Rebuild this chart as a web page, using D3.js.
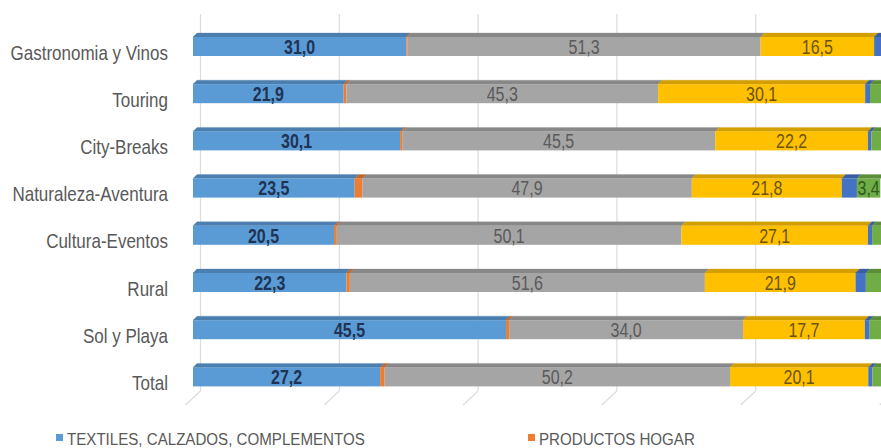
<!DOCTYPE html>
<html>
<head>
<meta charset="utf-8">
<script src="https://cdn.jsdelivr.net/npm/d3@7"></script>
<style>
  html, body { margin: 0; padding: 0; background: #ffffff; }
  svg { display: block; }
</style>
</head>
<body>
<script>
// Categories (one bar each) and the share of each product group, in %
const categories = ["Gastronomia y Vinos", "Touring", "City-Breaks", "Naturaleza-Aventura",
                    "Cultura-Eventos", "Rural", "Sol y Playa", "Total"];
const textiles = [31.0, 21.9, 30.1, 23.5, 20.5, 22.3, 45.5, 27.2];
const hogar    = [0.2, 0.4, 0.3, 1.1, 0.4, 0.5, 0.45, 0.65];
const serie3   = [51.3, 45.3, 45.5, 47.9, 50.1, 51.6, 34.0, 50.2];
const serie4   = [16.5, 30.1, 22.2, 21.8, 27.1, 21.9, 17.7, 20.1];
const serie5   = [1.0, 0.7, 0.5, 2.2, 0.6, 1.5, 0.7, 0.6];
const serie6   = [0.0, 1.6, 1.4, 3.4, 1.3, 2.2, 1.65, 1.25];
const gridTicks = [0, 20, 40, 60, 80, 100];
const legendLabels = ["TEXTILES, CALZADOS, COMPLEMENTOS", "PRODUCTOS HOGAR"];

const keys = ["textiles", "hogar", "serie3", "serie4", "serie5", "serie6"];
const colors = {
  textiles: "#5B9BD5", hogar: "#ED7D31", serie3: "#A5A5A5",
  serie4: "#FFC000", serie5: "#4472C4", serie6: "#70AD47"
};
const labelColors = {
  textiles: "#1f3354", hogar: "#7a3a10", serie3: "#5a5a5a",
  serie4: "#6b5410", serie5: "#1f3354", serie6: "#2f5a1c"
};
const labelWeights = { textiles: "bold", serie3: "normal", serie4: "normal", serie6: "normal", hogar: "normal", serie5: "normal" };

const rows = categories.map((c, i) => ({
  category: c,
  textiles: textiles[i], hogar: hogar[i], serie3: serie3[i],
  serie4: serie4[i], serie5: serie5[i], serie6: serie6[i]
}));

const W = 881, H = 448;
const FONT = "'Liberation Sans', Arial, sans-serif";
const svg = d3.select("body").append("svg").attr("width", W).attr("height", H);

// Front plane of the bars and the back wall of the 3D plot
const x = d3.scaleLinear().domain([0, 100]).range([193, 881]);
const xBack = d3.scaleLinear().domain([0, 100]).range([200.5, 894.5]);
const y = d3.scaleBand().domain(categories).range([22.9, 22.9 + 8 * 47.2])
  .paddingInner(0.5975).paddingOuter(0.29875);
const bw = y.bandwidth();
const depthX = 4, depthY = 4;      // bar top face offset
const wallTop = 14, floorBack = 391, floorFront = 405, floorShift = 15;

// condensed text: draws at (px, py) squeezed horizontally
function condensed(sel, px, py, sx) {
  return sel.attr("transform", `translate(${px},${py}) scale(${sx},1)`);
}

// back-wall gridlines and floor edges
const grid = svg.append("g").attr("stroke", "#dcdcdc").attr("stroke-width", 1.2).attr("fill", "none");
grid.selectAll("line.v").data(gridTicks).join("line").attr("class", "v")
  .attr("x1", d => xBack(d)).attr("x2", d => xBack(d))
  .attr("y1", wallTop).attr("y2", floorBack);
grid.selectAll("line.f").data(gridTicks).join("line").attr("class", "f")
  .attr("x1", d => xBack(d)).attr("x2", d => xBack(d) - floorShift)
  .attr("y1", floorBack).attr("y2", floorFront);

// stacked 3D bars
const series = d3.stack().keys(keys)(rows);
const barG = svg.append("g");
series.forEach(s => {
  const g = barG.append("g");
  const col = colors[s.key];
  // top face
  g.selectAll("path").data(s).join("path")
    .attr("d", d => {
      const x0 = x(d[0]), x1 = x(d[1]), yt = y(d.data.category);
      return `M${x0},${yt}L${x0 + depthX},${yt - depthY}L${x1 + depthX},${yt - depthY}L${x1},${yt}Z`;
    })
    .attr("fill", d3.color(col).darker(0.55))
    .attr("stroke", d3.color(col).darker(0.55)).attr("stroke-width", 0.3);
  // front face
  g.selectAll("rect").data(s).join("rect")
    .attr("x", d => x(d[0]))
    .attr("y", d => y(d.data.category))
    .attr("width", d => Math.max(0, x(d[1]) - x(d[0])))
    .attr("height", bw)
    .attr("fill", col);
});

// value labels on the wider segments
const labelG = svg.append("g").attr("font-family", FONT).attr("font-size", 20.5)
  .attr("text-anchor", "middle");
series.forEach(s => {
  s.forEach(d => {
    const v = d[1] - d[0];
    if (v < 3) return;
    const t = labelG.append("text")
      .attr("dy", "0.36em")
      .attr("fill", labelColors[s.key])
      .attr("font-weight", labelWeights[s.key])
      .text(d3.format(".1f")(v).replace(".", ","));
    condensed(t, (x(d[0]) + x(d[1])) / 2, y(d.data.category) + bw / 2, 0.78);
  });
});

// category labels
const catG = svg.append("g").attr("font-family", FONT).attr("font-size", 21)
  .attr("fill", "#595959").attr("text-anchor", "end");
categories.forEach(c => {
  const t = catG.append("text").attr("dy", "0.36em").text(c);
  condensed(t, 168, y(c) + bw / 2 + 5.5, 0.81);
});

// legend (first row)
const legendX = [56, 528];
const legG = svg.append("g").attr("font-family", FONT).attr("font-size", 16.8).attr("fill", "#595959");
legendLabels.forEach((lab, i) => {
  legG.append("rect").attr("x", legendX[i]).attr("y", 434).attr("width", 7).attr("height", 7)
    .attr("fill", colors[keys[i]]);
  const t = legG.append("text").text(lab);
  condensed(t, legendX[i] + 11, 445, 0.9);
});
</script>
</body>
</html>
